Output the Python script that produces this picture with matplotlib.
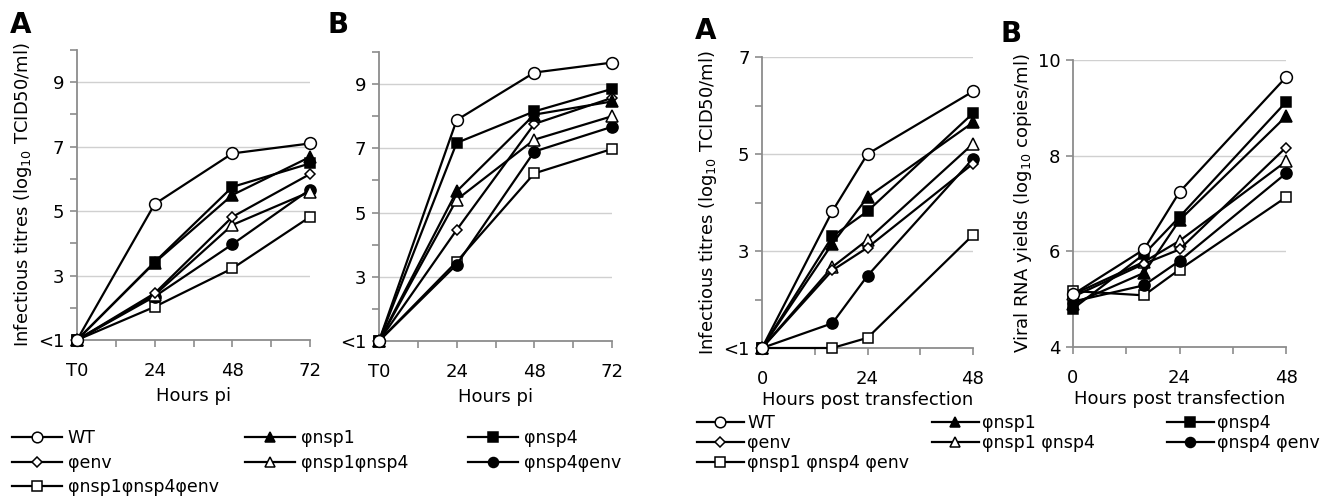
import matplotlib
matplotlib.use("Agg")
import matplotlib.pyplot as plt
from matplotlib.ticker import MultipleLocator, FixedLocator, FixedFormatter

plt.rcParams["font.family"] = ["DejaVu Sans"]

# --- data -------------------------------------------------------------
hours_pi = [0, 24, 48, 72]
hours_tf = [0, 16, 24, 48]

names_pi = ["WT", "φnsp1", "φnsp4", "φenv", "φnsp1φnsp4", "φnsp4φenv", "φnsp1φnsp4φenv"]
names_tf = ["WT", "φnsp1", "φnsp4", "φenv", "φnsp1 φnsp4", "φnsp4 φenv", "φnsp1 φnsp4 φenv"]

# panel A (left): infectious titres, hours pi
titre_a = {
    "WT": [1, 5.22, 6.79, 7.10],
    "φnsp1": [1, 3.40, 5.50, 6.68],
    "φnsp4": [1, 3.42, 5.75, 6.48],
    "φenv": [1, 2.45, 4.82, 6.15],
    "φnsp1φnsp4": [1, 2.40, 4.57, 5.60],
    "φnsp4φenv": [1, 2.35, 3.97, 5.67],
    "φnsp1φnsp4φenv": [1, 2.03, 3.22, 4.82],
}

# panel B (left): infectious titres, hours pi
titre_b = {
    "WT": [1, 7.88, 9.36, 9.67],
    "φnsp1": [1, 5.66, 8.05, 8.46],
    "φnsp4": [1, 7.17, 8.15, 8.85],
    "φenv": [1, 4.46, 7.76, 8.57],
    "φnsp1φnsp4": [1, 5.40, 7.27, 8.00],
    "φnsp4φenv": [1, 3.38, 6.90, 7.67],
    "φnsp1φnsp4φenv": [1, 3.47, 6.22, 6.98],
}

# panel A (right): infectious titres, hours post transfection
titre_tf = {
    "WT": [1, 3.82, 5.00, 6.29],
    "φnsp1": [1, 3.15, 4.11, 5.65],
    "φnsp4": [1, 3.30, 3.82, 5.84],
    "φenv": [1, 2.60, 3.07, 4.80],
    "φnsp1 φnsp4": [1, 2.67, 3.23, 5.21],
    "φnsp4 φenv": [1, 1.51, 2.49, 4.90],
    "φnsp1 φnsp4 φenv": [1, 1.00, 1.21, 3.33],
}

# panel B (right): viral RNA yields
rna_tf = {
    "WT": [5.10, 6.04, 7.24, 9.64],
    "φnsp1": [4.90, 5.55, 6.65, 8.82],
    "φnsp4": [4.80, 5.94, 6.72, 9.12],
    "φenv": [5.05, 5.74, 6.04, 8.17],
    "φnsp1 φnsp4": [5.10, 5.78, 6.22, 7.88],
    "φnsp4 φenv": [4.95, 5.29, 5.80, 7.63],
    "φnsp1 φnsp4 φenv": [5.17, 5.08, 5.62, 7.13],
}

# marker style per series position
markers = ["o", "^", "s", "D", "^", "o", "s"]
faces = ["white", "black", "black", "white", "white", "black", "white"]
msizes = [8.5, 8, 7.5, 5.5, 8, 8, 7.5]

GRID = "#d0d0d0"
SPINE = "#8c8c8c"
FS = 13

fig = plt.figure(figsize=(13.35, 4.97), dpi=100)
W, H = 1335, 497


def px_axes(left, top, right, bottom):
    return fig.add_axes([left / W, 1 - bottom / H, (right - left) / W, (bottom - top) / H])


def style(ax, xmax, xstep, ymin, ymax, ymaj, yminor_every, first_lab):
    ax.set_xlim(0, xmax)
    ax.set_ylim(ymin, ymax)
    xt = list(range(0, xmax + 1, xstep))
    ax.xaxis.set_major_locator(FixedLocator(xt))
    xl = [(first_lab if v == 0 else str(v)) if v % 24 == 0 else "" for v in xt]
    ax.xaxis.set_major_formatter(FixedFormatter(xl))
    ax.yaxis.set_major_locator(FixedLocator(ymaj))
    ax.yaxis.set_major_formatter(FixedFormatter(["<1" if v == 1 else str(v) for v in ymaj]))
    if yminor_every:
        ax.yaxis.set_minor_locator(MultipleLocator(yminor_every))
    for v in ymaj:
        if v != ymin:
            ax.axhline(v, color=GRID, lw=1, zorder=0)
    for s in ["top", "right"]:
        ax.spines[s].set_visible(False)
    for s in ["left", "bottom"]:
        ax.spines[s].set_color(SPINE)
        ax.spines[s].set_linewidth(1.3)
    ax.tick_params(axis="x", which="major", length=5, width=1.2, color=SPINE, pad=11, labelsize=FS)
    ax.tick_params(axis="y", which="major", length=5, width=1.2, color=SPINE, pad=4, labelsize=FS)
    ax.tick_params(axis="y", which="minor", length=5, width=1.2, color=SPINE)


def draw(ax, xs, data, names):
    for i, n in enumerate(names):
        ax.plot(xs, data[n], color="black", lw=1.6, marker=markers[i],
                mfc=faces[i], mec="black", mew=1.1, ms=msizes[i], clip_on=False, zorder=3 + (7 - i) * 0.1)


ax1 = px_axes(77, 50, 310, 340)
draw(ax1, hours_pi, titre_a, names_pi)
style(ax1, 72, 12, 1, 10, [1, 3, 5, 7, 9], 1, "T0")
ax1.set_xlabel("Hours pi", fontsize=FS, labelpad=5)
ax1.set_ylabel("Infectious titres (log$_{10}$ TCID50/ml)", fontsize=FS, labelpad=3)

ax2 = px_axes(379, 52, 612, 341)
draw(ax2, hours_pi, titre_b, names_pi)
style(ax2, 72, 12, 1, 10, [1, 3, 5, 7, 9], 1, "T0")
ax2.set_xlabel("Hours pi", fontsize=FS, labelpad=5)

ax3 = px_axes(762, 57, 973, 348)
draw(ax3, hours_tf, titre_tf, names_tf)
style(ax3, 48, 12, 1, 7, [1, 3, 5, 7], 1, "0")
ax3.set_xlabel("Hours post transfection", fontsize=FS, labelpad=2)
ax3.set_ylabel("Infectious titres (log$_{10}$ TCID50/ml)", fontsize=FS, labelpad=3)

ax4 = px_axes(1073, 60, 1286, 347)
draw(ax4, hours_tf, rna_tf, names_tf)
style(ax4, 48, 12, 4, 10, [4, 6, 8, 10], 0, "0")
ax4.set_xlabel("Hours post transfection", fontsize=FS, labelpad=2)
ax4.set_ylabel("Viral RNA yields (log$_{10}$ copies/ml)", fontsize=FS, labelpad=3)

# panel letters
for x, y, t in [(10, 33, "A"), (328, 33, "B"), (695, 39, "A"), (1000, 42, "B")]:
    fig.text(x / W, 1 - y / H, t, fontsize=20, fontweight="heavy", ha="left", va="baseline")


# legends: three columns, filled row by row
def legend_block(names, cols_x, top, handlelen, textpad, spacing):
    handles = {}
    for i, n in enumerate(names):
        (h,) = ax1.plot([], [], color="black", lw=1.6, marker=markers[i], mfc=faces[i],
                        mec="black", mew=1.1, ms=msizes[i] * 0.9)
        handles[n] = h
    for c, x in enumerate(cols_x):
        col = names[c::3]
        fig.legend([handles[n] for n in col], col, loc="upper left",
                   bbox_to_anchor=(x / W, 1 - top / H), frameon=False, fontsize=12.5,
                   handlelength=handlelen, handletextpad=textpad, labelspacing=spacing,
                   borderpad=0, borderaxespad=0, numpoints=1)


legend_block(names_pi, [12, 245, 468], 429, 2.9, 0.3, 0.38)
legend_block(names_tf, [697, 932, 1167], 414, 2.7, 0.2, 0.12)

fig.savefig("out.png", dpi=100)
